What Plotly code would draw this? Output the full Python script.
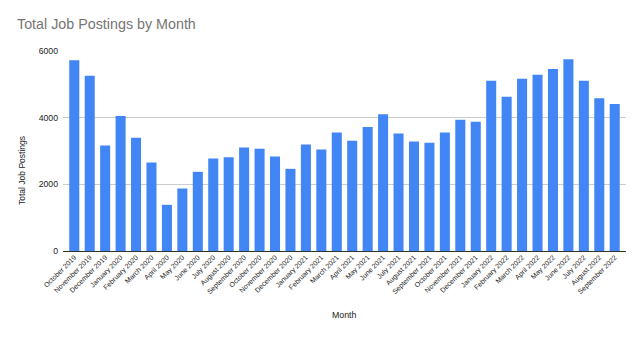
import plotly.graph_objects as go

months = ["October 2019", "November 2019", "December 2019", "January 2020", "February 2020",
          "March 2020", "April 2020", "May 2020", "June 2020", "July 2020", "August 2020",
          "September 2020", "October 2020", "November 2020", "December 2020", "January 2021",
          "February 2021", "March 2021", "April 2021", "May 2021", "June 2021", "July 2021",
          "August 2021", "September 2021", "October 2021", "November 2021", "December 2021",
          "January 2022", "February 2022", "March 2022", "April 2022", "May 2022", "June 2022",
          "July 2022", "August 2022", "September 2022"]
postings = [5720, 5260, 3165, 4050, 3395, 2655, 1385, 1875, 2375, 2775, 2815, 3105,
            3065, 2835, 2465, 3195, 3045, 3555, 3310, 3720, 4100, 3525, 3285, 3245,
            3555, 3940, 3880, 5110, 4630, 5170, 5290, 5460, 5750, 5110, 4580, 4410]
y_ticks = [0, 2000, 4000, 6000]

FONT = "Liberation Sans, Arial, sans-serif"

fig = go.Figure(go.Bar(x=months, y=postings, marker=dict(color="#4285F4", line=dict(width=0))))

fig.update_layout(
    width=643, height=337,
    margin=dict(l=63, r=17, t=51, b=86),
    paper_bgcolor="white", plot_bgcolor="white",
    bargap=0.35,
    showlegend=False,
    font=dict(family=FONT, color="#222222", size=9),
    title=dict(text="Total Job Postings by Month", x=17/643, xanchor="left",
               y=1 - 24/337, yanchor="middle",
               font=dict(family=FONT, size=14.3, color="#757575")),
    xaxis=dict(tickangle=-45, tickfont=dict(size=7, color="#222222"),
               range=[-0.73, len(months) - 1 + 0.73],
               showgrid=False, ticks="", showline=False),
    yaxis=dict(range=[0, 6000], tickvals=y_ticks, showgrid=True, gridcolor="#cccccc",
               gridwidth=1, zeroline=True, zerolinecolor="#333333", zerolinewidth=1,
               tickfont=dict(size=8.7, color="#222222"), ticks="", ticklabelstandoff=4),
    annotations=[
        dict(text="Month", xref="paper", yref="paper", x=0.5, y=-(315 - 251) / 200,
             xanchor="center", yanchor="middle", showarrow=False,
             font=dict(family=FONT, size=8.8, color="#222222")),
        dict(text="Total Job Postings", xref="paper", yref="paper",
             x=-(63 - 22) / 563, y=(251 - 171) / 200, xanchor="center", yanchor="middle",
             textangle=-90, showarrow=False,
             font=dict(family=FONT, size=8.5, color="#222222")),
    ],
)

fig.write_html("out.html")
